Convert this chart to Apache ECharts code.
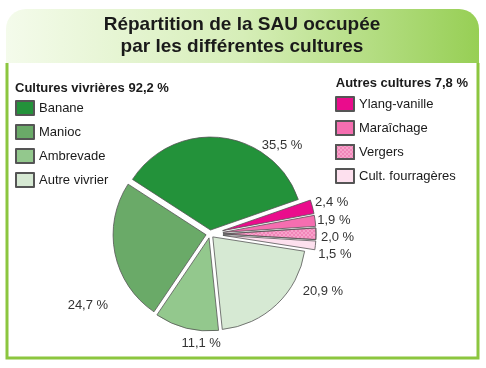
<!DOCTYPE html>
<html><head><meta charset="utf-8">
<script src="https://cdn.jsdelivr.net/npm/echarts@6/dist/echarts.min.js"></script>
<style>html,body{margin:0;padding:0;background:#fff}#c{width:486px;height:368px}</style>
</head><body><div id="c"></div>
<script>
const titleLines = ['Répartition de la SAU occupée', 'par les différentes cultures'];
const vivrierHeader = 'Cultures vivrières 92,2 %';
const autresHeader = 'Autres cultures 7,8 %';
const vivrierNames = ['Banane', 'Manioc', 'Ambrevade', 'Autre vivrier'];
const vivrierValues = [35.5, 24.7, 11.1, 20.9];
const autresNames = ['Ylang-vanille', 'Maraîchage', 'Vergers', 'Cult. fourragères'];
const autresValues = [2.4, 1.9, 2.0, 1.5];

const vivrierColors = ['#23923a', '#6aaa68', '#93c88d', '#d6e9d3'];
const autresColors = ['#ea0c8c', '#f56eb0', '#f7a3cb', '#fde0ee'];
// label nudges (pixels) relative to the library's outside label placement
const labelNudge = {
  'Banane': [34, 18], 'Manioc': [8, 50], 'Ambrevade': [42, 6], 'Autre vivrier': [14, -20],
  'Ylang-vanille': [-7, -2], 'Maraîchage': [-8, -1], 'Vergers': [-5, 0], 'Cult. fourragères': [-6, 0]
};

// clockwise order around the pie starting from Banane
const order = [
  ['v', 0], ['a', 0], ['a', 1], ['a', 2], ['a', 3], ['v', 3], ['v', 2], ['v', 1]
];
const fmt = v => v.toFixed(1).replace('.', ',') + ' %';
const FONT = 'Liberation Sans, Arial, sans-serif';

function buildData(group) {
  return order.map(([g, i]) => {
    const name = g === 'v' ? vivrierNames[i] : autresNames[i];
    const value = g === 'v' ? vivrierValues[i] : autresValues[i];
    const color = g === 'v' ? vivrierColors[i] : autresColors[i];
    if (g !== group) {
      return { name: '_' + name, value, itemStyle: { color: 'rgba(0,0,0,0)', borderWidth: 0 }, label: { show: false } };
    }
    const item = { name, value, selected: true, itemStyle: { color } };
    if (name === 'Vergers') {
      item.itemStyle.decal = { symbol: 'rect', symbolSize: 1, dashArrayX: [[2, 2], [0, 2, 2, 0]], dashArrayY: [2, 0], color: 'rgba(236,110,170,0.55)' };
    }
    return item;
  });
}

const chart = echarts.init(document.getElementById('c'), null, { renderer: 'canvas' });
const baseSeries = {
  type: 'pie',
  center: [210, 234],
  radius: 93,
  startAngle: 147,
  clockwise: true,
  selectedMode: 'multiple',
  avoidLabelOverlap: true,
  animation: false,
  emphasis: { disabled: true },
  itemStyle: { borderColor: '#555', borderWidth: 0.8 },
  label: {
    show: true, position: 'outside', color: '#333', fontSize: 13, fontFamily: FONT,
    formatter: p => fmt(p.value)
  },
  labelLine: { show: false, length: 10, length2: 0 },
  labelLayout: function (params) {
    const s = chart.getOption().series[params.seriesIndex];
    const nm = s.data[params.dataIndex].name;
    const n = labelNudge[nm] || [0, 0];
    return { dx: n[0], dy: n[1] };
  }
};

chart.setOption({
  animation: false,
  graphic: [
    { type: 'rect', z: -10, shape: { x: 6, y: 9, width: 473, height: 54, r: [20, 20, 0, 0] },
      style: { fill: new echarts.graphic.LinearGradient(0, 0, 1, 0, [
        { offset: 0, color: '#f4fbeb' }, { offset: 0.5, color: '#d6eeb8' }, { offset: 1, color: '#97cf55' }]) } },
    { type: 'polyline', z: -10, shape: { points: [[7, 63], [7, 358], [478, 358], [478, 63]] },
      style: { stroke: '#8cc63f', lineWidth: 3, fill: null } },
    { type: 'text', x: 242, y: 25, style: { text: titleLines[0], fontSize: 19, fontWeight: 'bold', fill: '#1a1a1a', align: 'center', verticalAlign: 'middle', fontFamily: FONT } },
    { type: 'text', x: 242, y: 47, style: { text: titleLines[1], fontSize: 19, fontWeight: 'bold', fill: '#1a1a1a', align: 'center', verticalAlign: 'middle', fontFamily: FONT } },
    { type: 'text', x: 15, y: 88, style: { text: vivrierHeader, fontSize: 13, fontWeight: 'bold', fill: '#1a1a1a', align: 'left', verticalAlign: 'middle', fontFamily: FONT } },
    { type: 'text', x: 468, y: 83, style: { text: autresHeader, fontSize: 13, fontWeight: 'bold', fill: '#1a1a1a', align: 'right', verticalAlign: 'middle', fontFamily: FONT } }
  ],
  legend: [
    { data: vivrierNames, orient: 'vertical', left: 15, top: 100, padding: 0, icon: 'rect', itemWidth: 18, itemHeight: 14, itemGap: 8,
      selectedMode: false, textStyle: { fontSize: 13, color: '#1a1a1a', fontFamily: FONT } },
    { data: autresNames, orient: 'vertical', left: 335, top: 96, padding: 0, icon: 'rect', itemWidth: 18, itemHeight: 14, itemGap: 8,
      selectedMode: false, textStyle: { fontSize: 13, color: '#1a1a1a', fontFamily: FONT } }
  ],
  series: [
    Object.assign({}, baseSeries, { name: 'vivrier', selectedOffset: 4, data: buildData('v') }),
    Object.assign({}, baseSeries, { name: 'autres', selectedOffset: 13, data: buildData('a') })
  ]
});
</script></body></html>
